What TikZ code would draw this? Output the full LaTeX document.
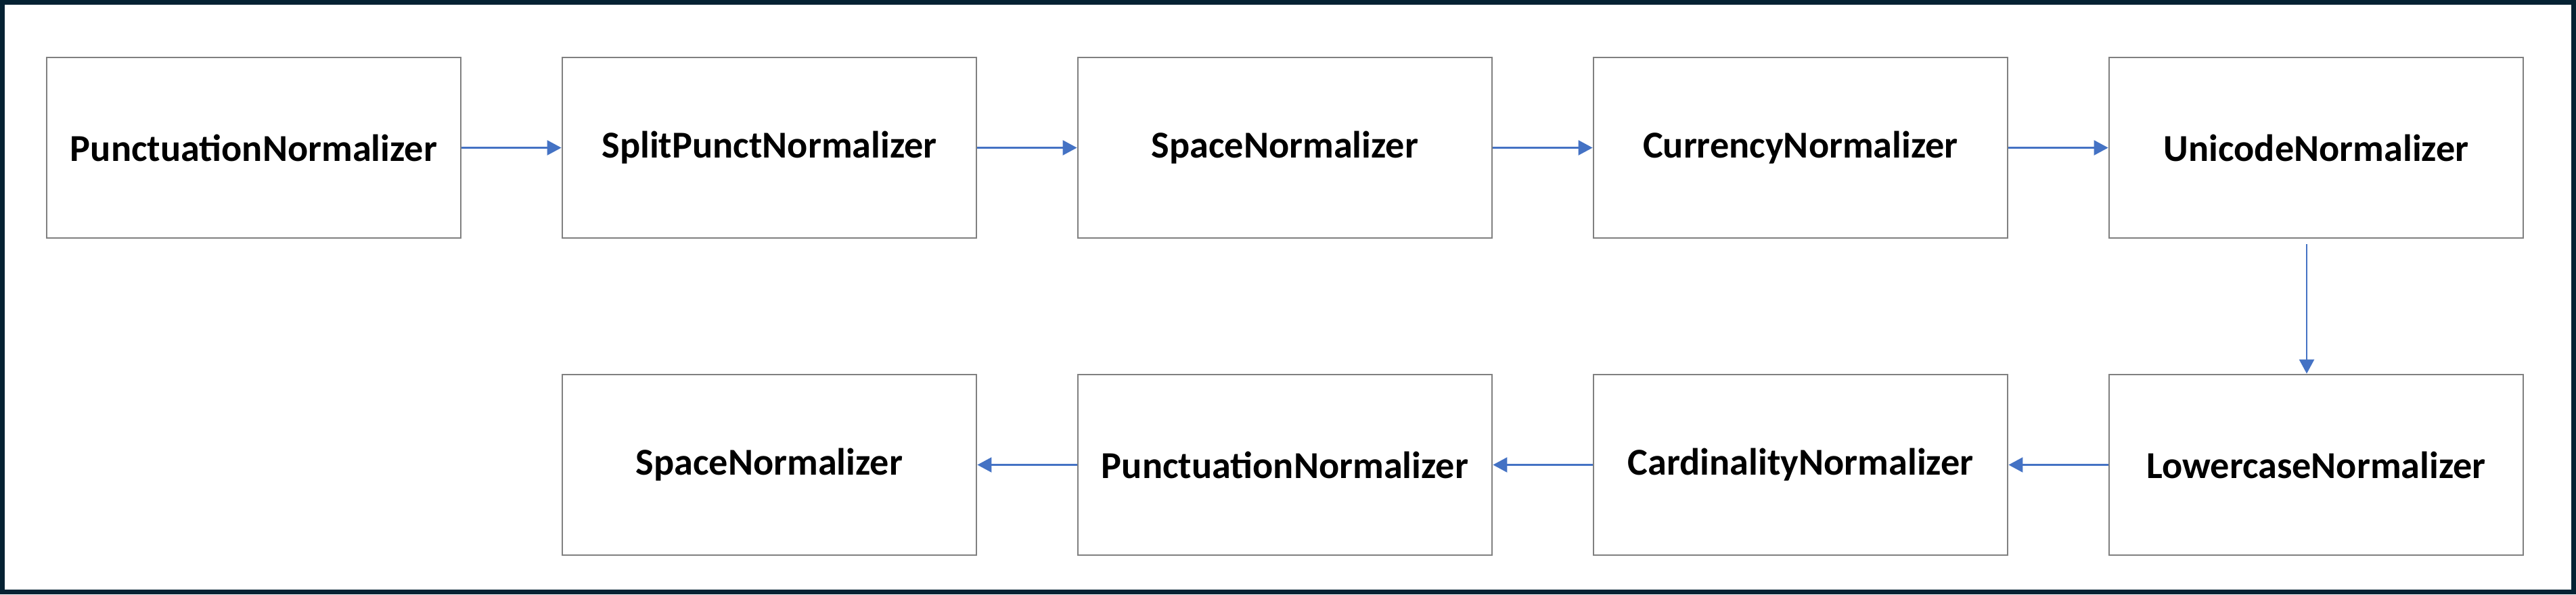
\documentclass[tikz,border=0pt]{standalone}
\usepackage{fontspec}
\setmainfont{Carlito}
\usepackage{tikz}
\usetikzlibrary{arrows.meta,positioning,calc}

\definecolor{frame}{RGB}{5,34,51}
\definecolor{arrblue}{RGB}{68,114,196}

\begin{document}
\begin{tikzpicture}[
    box/.style={draw=black!50, line width=0.8pt, minimum width=6.12cm, minimum height=2.67cm, align=center, font=\fontsize{16}{19}\selectfont\bfseries, fill=white},
    arr/.style={-{Triangle[length=0.21cm, width=0.22cm]}, draw=arrblue, fill=arrblue, line width=0.7pt}
]
\useasboundingbox (0,0) rectangle (38.07,-8.79);
\fill[frame] (0,0) rectangle (38.07,-8.79);
\fill[white] (0.07,-0.07) rectangle (38.00,-8.72);

% top row
\node[box] (punct) at (3.75,-2.185) {PunctuationNormalizer};
\node[box] (split) at (11.37,-2.185) {SplitPunctNormalizer};
\node[box] (space) at (18.99,-2.185) {SpaceNormalizer};
\node[box] (curr) at (26.61,-2.185) {CurrencyNormalizer};
\node[box] (uni) at (34.23,-2.185) {UnicodeNormalizer};

% bottom row
\node[box] (low) at (34.23,-6.875) {LowercaseNormalizer};
\node[box] (card) at (26.61,-6.875) {CardinalityNormalizer};
\node[box] (punct2) at (18.99,-6.875) {PunctuationNormalizer};
\node[box] (space2) at (11.37,-6.875) {SpaceNormalizer};

\draw[arr] (punct) -- (split);
\draw[arr] (split) -- (space);
\draw[arr] (space) -- (curr);
\draw[arr] (curr) -- (uni);
\draw[arr] ([xshift=-0.14cm, yshift=-0.08cm]uni.south) -- ([xshift=-0.14cm]low.north);
\draw[arr] (low) -- (card);
\draw[arr] (card) -- (punct2);
\draw[arr] (punct2) -- (space2);
\end{tikzpicture}
\end{document}
